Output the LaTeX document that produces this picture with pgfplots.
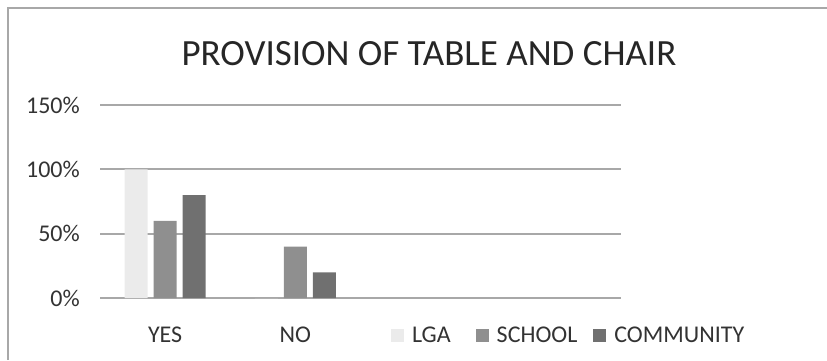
\documentclass[border=0pt]{standalone}
\usepackage{pgfplots}
\pgfplotsset{compat=1.18}
\usepackage{fontspec}
\setmainfont{Carlito}
\definecolor{lga}{HTML}{EBEBEB}
\definecolor{school}{HTML}{8F8F8F}
\definecolor{community}{HTML}{707070}
\definecolor{gridc}{HTML}{A8A8A8}
\begin{document}
\begin{tikzpicture}[x=1pt,y=1pt]
\path[use as bounding box] (0pt,0pt) rectangle (827pt,360pt);
\draw[gridc, line width=1.2pt] (8pt,0pt) -- (8pt,352pt) -- (827pt,352pt);
\node[font=\fontsize{37}{44}\selectfont, text=black!85] at (429pt,306pt) {PROVISION OF TABLE AND CHAIR};
\begin{axis}[
  at={(100pt,62pt)}, anchor=south west,
  scale only axis, width=521pt, height=193pt,
  ybar=6pt, bar width=23pt,
  xmin=-0.5, xmax=3.5, ymin=0, ymax=150,
  xtick={0,1}, xticklabels={YES,NO},
  ytick={0,50,100,150},
  yticklabel={\pgfmathprintnumber{\tick}\%},
  /pgf/number format/assume math mode=true,
  ymajorgrids, grid style={gridc, line width=2pt},
  axis line style={draw=none}, tick style={draw=none},
  ticklabel style={font=\fontsize{24}{29}\selectfont, text=black!80},
  yticklabel style={anchor=east, inner sep=0pt, xshift=-20pt},
  xticklabel style={anchor=north, inner sep=0pt, yshift=-24pt},
  legend columns=3,
  legend style={at={(0.5585,-0.192)}, anchor=west, draw=none, inner sep=0pt,
    font=\fontsize{24}{29}\selectfont, text=black!80,
    /tikz/every odd column/.append style={column sep=6pt},
    /tikz/column 2/.style={column sep=23pt},
    /tikz/column 4/.style={column sep=14pt}},
  legend image code/.code={\fill[#1] (0pt,-6.5pt) rectangle (13pt,6.5pt);},
]
\addplot[fill=lga, draw=none] coordinates {(0,100) (1,0)};
\addplot[fill=school, draw=none] coordinates {(0,60) (1,40)};
\addplot[fill=community, draw=none] coordinates {(0,80) (1,20)};
\legend{LGA,SCHOOL,COMMUNITY}
\end{axis}
\end{tikzpicture}
\end{document}
